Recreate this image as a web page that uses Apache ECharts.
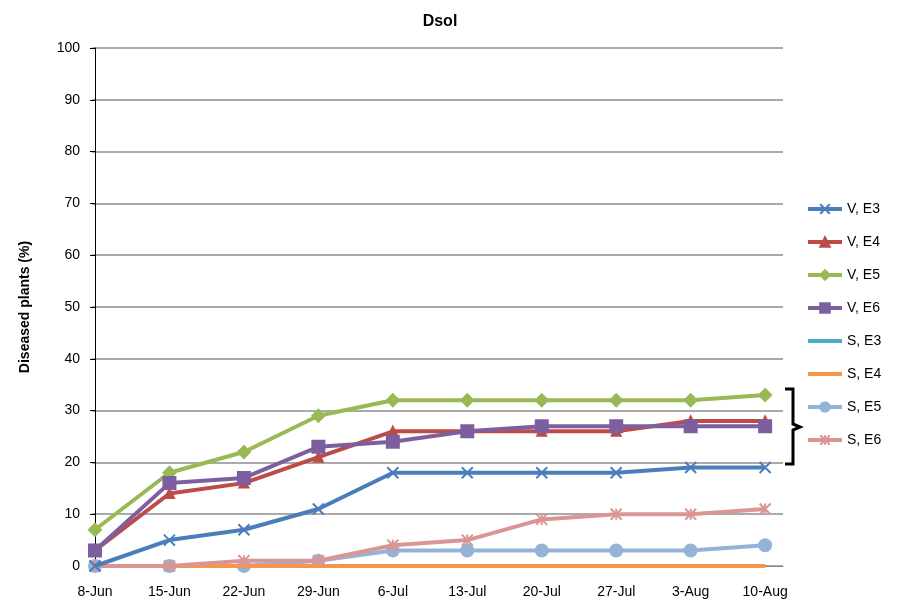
<!DOCTYPE html>
<html>
<head>
<meta charset="utf-8">
<script src="https://cdn.jsdelivr.net/npm/echarts@6/dist/echarts.min.js"></script>
<style>
  html, body { margin: 0; padding: 0; background: #fff; }
  #main { width: 902px; height: 602px; }
</style>
</head>
<body>
<div id="main"></div>
<script>
// data
var dates = ['8-Jun', '15-Jun', '22-Jun', '29-Jun', '6-Jul', '13-Jul', '20-Jul', '27-Jul', '3-Aug', '10-Aug'];
var yTicks = [0, 10, 20, 30, 40, 50, 60, 70, 80, 90, 100];
var vE3 = [0, 5, 7, 11, 18, 18, 18, 18, 19, 19];
var vE4 = [3, 14, 16, 21, 26, 26, 26, 26, 28, 28];
var vE5 = [7, 18, 22, 29, 32, 32, 32, 32, 32, 33];
var vE6 = [3, 16, 17, 23, 24, 26, 27, 27, 27, 27];
var sE3 = [0, 0, 0, 0, 0, 0, 0, 0, 0, 0];
var sE4 = [0, 0, 0, 0, 0, 0, 0, 0, 0, 0];
var sE5 = [0, 0, 0, 1, 3, 3, 3, 3, 3, 4];
var sE6 = [0, 0, 1, 1, 4, 5, 9, 10, 10, 11];
var names = ['V, E3', 'V, E4', 'V, E5', 'V, E6', 'S, E3', 'S, E4', 'S, E5', 'S, E6'];

var font = 'Liberation Sans Narrow, Liberation Sans, Arial, sans-serif';
var crossPath = 'path://M0,0 L10,10 M10,0 L0,10';
var starPath = 'path://M5,0 L5,10 M0,0 L10,10 M10,0 L0,10';

function pairs(arr) {
  return arr.map(function (v, i) { return [i, v]; });
}

function mk(name, data, color, symbol, size, z) {
  return {
    name: name,
    type: 'line',
    data: pairs(data),
    symbol: symbol,
    symbolSize: size,
    showSymbol: symbol !== 'none',
    z: z,
    lineStyle: { color: color, width: 4 },
    itemStyle: { color: color, borderColor: color, borderWidth: 2 },
    emphasis: { disabled: true }
  };
}

// S, E3 / S, E4 have no markers, so hide the legend symbol
var legendData = names.map(function (n) {
  if (n === 'S, E3' || n === 'S, E4') {
    return { name: n, itemStyle: { opacity: 0 } };
  }
  return { name: n };
});

var myChart = echarts.init(document.getElementById('main'));
var option = {
  animation: false,
  textStyle: { fontFamily: font },
  title: {
    text: 'Dsol',
    left: 435,
    top: 9,
    textAlign: 'center',
    textStyle: { fontFamily: font, fontSize: 16, fontWeight: 'bold', color: '#000' }
  },
  legend: {
    orient: 'vertical',
    left: 801,
    top: 197,
    itemWidth: 34,
    itemHeight: 12,
    itemGap: 19,
    lineStyle: { width: 4 },
    textStyle: { fontFamily: font, fontSize: 14, color: '#000' },
    data: legendData
  },
  grid: { left: 92, right: 119, top: 48, bottom: 36, containLabel: false },
  xAxis: {
    type: 'value',
    min: -0.04,
    max: 9.24,
    splitLine: { show: false },
    axisLine: { show: true, lineStyle: { color: '#888', width: 1 } },
    axisTick: { show: false },
    axisLabel: {
      customValues: dates.map(function (d, i) { return i; }),
      formatter: function (v) { return dates[Math.round(v)]; },
      color: '#000',
      fontSize: 14,
      margin: 19
    }
  },
  yAxis: {
    type: 'value',
    min: 0,
    max: 100,
    interval: 10,
    name: 'Diseased plants (%)',
    nameLocation: 'middle',
    nameGap: 60,
    nameTextStyle: { fontFamily: font, fontSize: 14, fontWeight: 'bold', color: '#000' },
    axisLine: { show: true, lineStyle: { color: '#000', width: 1 } },
    axisTick: { show: true, length: 5, lineStyle: { color: '#000' } },
    axisLabel: {
      color: '#000',
      fontSize: 14,
      margin: 12,
      formatter: function (v) { return yTicks.indexOf(v) >= 0 ? String(v) : ''; }
    },
    splitLine: { show: true, lineStyle: { color: '#aaa', width: 2 } }
  },
  series: [
    mk('V, E3', vE3, '#4a7ebb', crossPath, 11, 5),
    mk('V, E4', vE4, '#be4b48', 'triangle', 9, 5),
    mk('V, E5', vE5, '#98b954', 'diamond', 12, 5),
    mk('V, E6', vE6, '#7d5fa0', 'rect', 12, 6),
    mk('S, E3', sE3, '#4bacc6', 'none', 0, 3),
    mk('S, E4', sE4, '#f79646', 'none', 0, 4),
    mk('S, E5', sE5, '#95b3d7', 'circle', 12, 3),
    mk('S, E6', sE6, '#d99694', starPath, 11, 4)
  ],
  graphic: [
    {
      type: 'polyline',
      shape: { points: [[785, 389], [793, 389], [793, 424], [800, 427], [793, 430], [793, 464], [785, 464]] },
      style: { stroke: '#000', lineWidth: 3, fill: null }
    }
  ]
};
myChart.setOption(option);
</script>
</body>
</html>
